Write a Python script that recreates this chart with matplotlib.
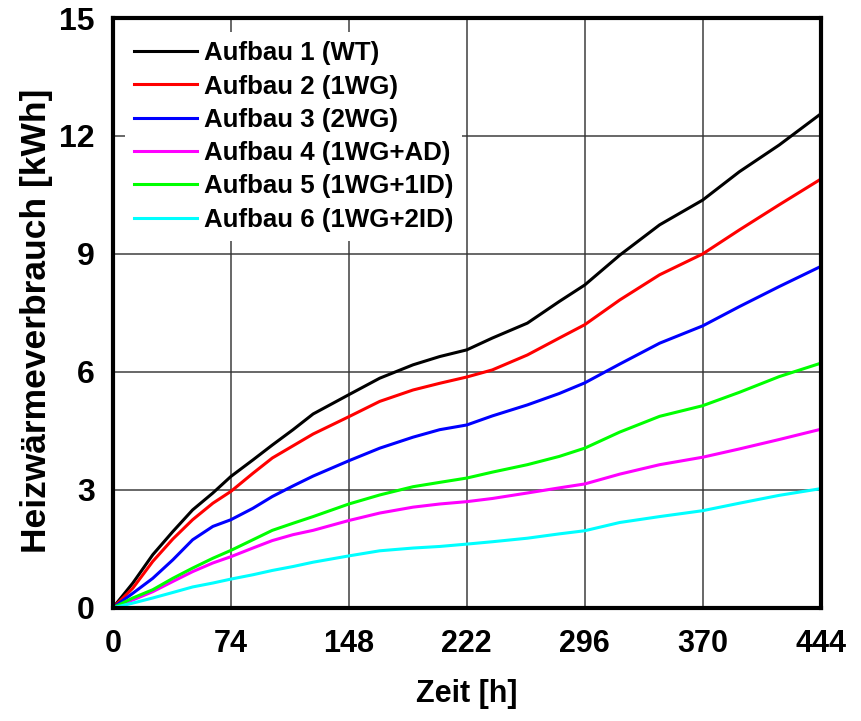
import matplotlib
matplotlib.use("Agg")
import matplotlib.pyplot as plt

plt.rcParams['font.family'] = ['Liberation Sans', 'DejaVu Sans']
plt.rcParams['font.weight'] = 'bold'

# Zeitpunkte [h]
zeit = [0, 12.5, 25, 37.6, 50, 62.7, 74, 87.8, 100, 113, 125.6, 148, 167.4,
        188.3, 205, 222, 238, 260, 280, 296, 318, 343, 370, 393, 418, 444]

# Kumulierter Heizwärmeverbrauch [kWh]
aufbau1 = [0, 0.63, 1.35, 1.94, 2.49, 2.92, 3.34, 3.76, 4.14, 4.53, 4.93, 5.42,
           5.84, 6.18, 6.39, 6.56, 6.86, 7.24, 7.79, 8.21, 8.97, 9.74, 10.37,
           11.09, 11.77, 12.56]
aufbau2 = [0, 0.50, 1.18, 1.75, 2.24, 2.66, 2.96, 3.42, 3.81, 4.12, 4.42, 4.86,
           5.25, 5.54, 5.71, 5.87, 6.05, 6.43, 6.86, 7.20, 7.83, 8.47, 9.00,
           9.61, 10.25, 10.90]
aufbau3 = [0, 0.37, 0.75, 1.22, 1.73, 2.07, 2.24, 2.53, 2.83, 3.10, 3.35, 3.74,
           4.06, 4.34, 4.53, 4.65, 4.88, 5.16, 5.45, 5.72, 6.20, 6.73, 7.17,
           7.66, 8.17, 8.68]
aufbau4 = [0, 0.20, 0.41, 0.67, 0.92, 1.14, 1.30, 1.52, 1.71, 1.86, 1.97, 2.22,
           2.41, 2.56, 2.64, 2.70, 2.78, 2.92, 3.05, 3.15, 3.40, 3.64, 3.83,
           4.04, 4.28, 4.54]
aufbau5 = [0, 0.25, 0.46, 0.75, 1.01, 1.26, 1.46, 1.73, 1.97, 2.15, 2.32, 2.64,
           2.87, 3.08, 3.19, 3.30, 3.45, 3.64, 3.85, 4.06, 4.47, 4.87, 5.14,
           5.48, 5.88, 6.22]
aufbau6 = [0, 0.12, 0.25, 0.39, 0.53, 0.63, 0.73, 0.84, 0.95, 1.05, 1.16, 1.32,
           1.45, 1.52, 1.56, 1.62, 1.68, 1.77, 1.88, 1.96, 2.17, 2.32, 2.47,
           2.66, 2.86, 3.03]

labels = ["Aufbau 1 (WT)", "Aufbau 2 (1WG)", "Aufbau 3 (2WG)",
          "Aufbau 4 (1WG+AD)", "Aufbau 5 (1WG+1ID)", "Aufbau 6 (1WG+2ID)"]
colors = ["#000000", "#ff0000", "#0000ff", "#ff00ff", "#00ff00", "#00ffff"]
series = [aufbau1, aufbau2, aufbau3, aufbau4, aufbau5, aufbau6]

xticks = [0, 74, 148, 222, 296, 370, 444]
yticks = [0, 3, 6, 9, 12, 15]

fig = plt.figure(figsize=(8.62, 7.21), dpi=100)
ax = fig.add_axes([0.131, 0.157, 0.821, 0.818])

for vals, lab, col in zip(series, labels, colors):
    ax.plot(zeit, vals, color=col, lw=2.2, label=lab, zorder=3,
            solid_joinstyle='round')

ax.set_xlim(0, 444)
ax.set_ylim(0, 15)
ax.set_xticks(xticks)
ax.set_yticks(yticks)
ax.grid(True, color="#333333", lw=1.3, alpha=0.8, zorder=1)
ax.set_axisbelow(True)

for sp in ax.spines.values():
    sp.set_linewidth(3)
    sp.set_zorder(5)

ax.tick_params(axis='x', length=0, pad=15, labelsize=22)
ax.tick_params(axis='y', length=0, pad=13, labelsize=23)

ax.set_xlabel("Zeit [h]", fontsize=22, fontweight='bold', labelpad=15)
ax.set_ylabel("Heizwärmeverbrauch [kWh]", fontsize=25.5, fontweight='bold')
ax.yaxis.set_label_coords(-0.085, 0.486)

leg = ax.legend(loc='upper left', bbox_to_anchor=(0.017, 0.976), borderaxespad=0,
                borderpad=0.35, frameon=True, fancybox=False, framealpha=1,
                facecolor='white', edgecolor='none', handlelength=2.45,
                handletextpad=0.25, labelspacing=0.36,
                prop={'size': 18.6, 'weight': 'bold'})
leg.set_zorder(4)
for line in leg.get_lines():
    line.set_linewidth(2.2)

fig.savefig("out.png", dpi=100)
